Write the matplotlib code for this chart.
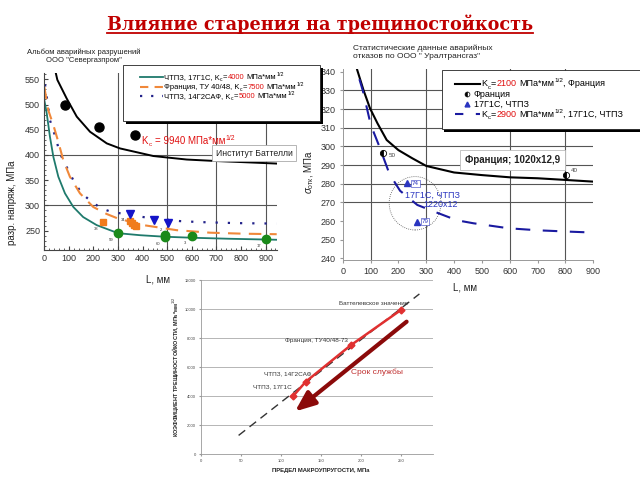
import matplotlib
matplotlib.use("Agg")
import matplotlib.pyplot as plt
from matplotlib.patches import Rectangle, Ellipse
from matplotlib.lines import Line2D
from matplotlib.ticker import MultipleLocator

plt.rcParams['font.family'] = ['Liberation Sans', 'DejaVu Sans']
plt.rcParams['mathtext.fontset'] = 'custom'
plt.rcParams['mathtext.rm'] = 'Liberation Sans'
plt.rcParams['mathtext.it'] = 'Liberation Sans:italic'
plt.rcParams['mathtext.bf'] = 'Liberation Sans:bold'

# ---- left chart: Альбом аварийных разрушений (Севергазпром) ----
L_17g1s = [0, 10, 23, 37, 57, 84, 118, 158, 213, 300, 390, 490, 600, 750, 945]
s_17g1s = [509, 482, 436, 396, 357, 324, 297, 277, 261, 245, 241, 238, 236, 234, 232]
L_france = [0, 16, 37, 57, 77, 104, 145, 199, 254, 300, 403, 538, 674, 809, 945]
s_france = [535, 489, 459, 426, 390, 357, 324, 297, 283, 274, 261, 251, 246, 244, 243]
L_14g2saf = [3, 23, 43, 64, 84, 118, 152, 193, 233, 274, 315, 402, 551, 633, 780, 945]
s_14g2saf = [540, 469, 439, 403, 383, 350, 324, 307, 294, 287, 284, 277, 269, 267, 265, 264]
L_battelle = [47, 53, 91, 132, 186, 254, 308, 389, 443, 500, 579, 700, 800, 945]
s_battelle = [562, 549, 512, 476, 446, 423, 413, 404, 398, 395, 391, 388, 386, 383]

bat_pts_L = [86, 221, 369]
bat_pts_s = [500, 456, 439]
green_pts_L = [300, 490, 492, 600, 900]
green_pts_s = [246, 242, 238, 239, 233]
orange_pts_L = [240, 350, 358, 365, 372]
orange_pts_s = [268, 270, 266, 262, 259]
blue_pts_L = [350, 448, 503]
blue_pts_s = [284, 271, 265]

# ---- right chart: Уралтрансгаз ----
L_fr2100 = [52, 75, 98, 125, 158, 200, 250, 300, 400, 500, 601, 700, 801, 900]
s_fr2100 = [341, 330, 320.4, 312.3, 303.4, 298, 293.6, 289.5, 286, 284.6, 283.4, 282.9, 282, 281.1]
L_ct2900 = [60, 72, 101, 132, 168, 206, 268, 338, 410, 469, 596, 704, 814, 900]
s_ct2900 = [336, 330, 311.4, 299.8, 285.2, 276.2, 268.6, 264.5, 260.4, 258.8, 256.1, 255, 254.3, 253.8]
fr_pts_L = [146, 801]
fr_pts_s = [296.6, 284.6]
fr_pts_lab = ["50", "40"]
ct_pts_L = [232, 266]
ct_pts_s = [280.2, 259.6]
ct_pts_lab = ["74", "79"]

# ---- bottom chart: Kc vs предел макроупругости ----
steel_names = ["ЧТПЗ, 17Г1С", "ЧТПЗ, 14Г2САФ", "Франция, ТУ40/48-73", "Баттелевское значение"]
macro_limit = [115, 131, 187, 250]
kc_values = [4000, 5000, 7500, 9940]
trend_x = [47, 273]
trend_y = [1300, 11040]

W, H = 640, 480
fig = plt.figure(figsize=(6.4, 4.8), dpi=100)
fig.patch.set_facecolor('white')
renderer = fig.canvas.get_renderer()


def fx(px):
    return px / W


def fy(py):
    return 1 - py / H


def add_ax(x0, y0, x1, y1):
    return fig.add_axes([fx(x0), fy(y1), (x1 - x0) / W, (y1 - y0) / H])


def colored_text(x, y, parts, size):
    # pieces of one line drawn next to each other, x/y in pixels (baseline)
    # a piece is (text, colour) or (text, colour, 'sub'/'sup')
    px_pt = 100 / 72
    for p in parts:
        s, c = p[0], p[1]
        kind = p[2] if len(p) > 2 else ''
        if s.startswith(' '):
            x += 0.28 * size * px_pt
            s = s.lstrip()
        fs, dy = size, 0
        if kind == 'sub':
            fs, dy = size * 0.65, 0.25 * size * px_pt
        elif kind == 'sup':
            fs, dy = size * 0.7, -0.45 * size * px_pt
        t = fig.text(fx(x), fy(y + dy), s, color=c, fontsize=fs, va='baseline', zorder=6)
        x += t.get_window_extent(renderer=renderer).width + 0.3


def kc_line(prefix, num, suffix):
    return [(prefix + "K", 'black'), ("c", 'black', 'sub'), ("=", 'black'), (num, red),
            (" МПа*мм", 'black'), ("1/2", 'black', 'sup')] + ([(suffix, 'black')] if suffix else [])


red = '#e01010'

# title
title = fig.text(0.5, fy(29.5), "Влияние старения на трещиностойкость",
                 fontfamily='DejaVu Serif', fontweight='bold', color='#c00000',
                 fontsize=14, ha='center', va='baseline')
tw = title.get_window_extent(renderer=renderer).width
title.set_fontsize(14 * 424 / tw)
bb = title.get_window_extent(renderer=renderer)
fig.add_artist(Line2D([bb.x0 / W, bb.x1 / W], [fy(33), fy(33)], color='#c00000', lw=1.3))

# ================= left chart =================
ax1 = add_ax(44.3, 73, 276.7, 250)
ax1.set_xlim(0, 945)
ax1.set_ylim(211.7, 562.5)
for side in ['top', 'right']:
    ax1.spines[side].set_visible(False)
for side in ['left', 'bottom']:
    ax1.spines[side].set_color('#444444')
    ax1.spines[side].set_linewidth(0.8)
ax1.set_xticks(range(0, 901, 100))
ax1.set_yticks(range(250, 551, 50))
ax1.xaxis.set_minor_locator(MultipleLocator(20))
ax1.yaxis.set_minor_locator(MultipleLocator(10))
ax1.tick_params(which='both', direction='in', color='#444444', labelsize=6.5, labelcolor='#333333')
ax1.tick_params(which='major', length=3, pad=3)
ax1.tick_params(which='minor', length=1.5)
for v in [300, 500, 700, 900]:
    ax1.axvline(v, color='#555555', lw=0.8, zorder=0)
for v in [300, 400]:
    ax1.axhline(v, color='#555555', lw=0.8, zorder=0)

ax1.plot(L_battelle, s_battelle, color='black', lw=1.4)
ax1.plot(L_14g2saf, s_14g2saf, color='#22228a', lw=1.6, dashes=(1, 4.5))
ax1.plot(L_france, s_france, color='#f0883a', lw=1.5, dashes=(6, 4))
ax1.plot(L_17g1s, s_17g1s, color='#1f7a6c', lw=1.3)
ax1.plot(bat_pts_L, bat_pts_s, 'o', color='black', ms=6.5)
ax1.plot(orange_pts_L, orange_pts_s, 's', color='#f07c1c', ms=5)
ax1.plot(blue_pts_L, blue_pts_s, 'v', color='#1414c8', ms=6)
ax1.plot(green_pts_L, green_pts_s, 'o', color='#1a8a1a', ms=6, zorder=4)
for L, s, lab in zip([300, 492, 600, 900, 240, 350, 503],
                     [246, 238, 239, 233, 268, 284, 265],
                     ["59", "60", "3", "17", "38", "34", "2"]):
    ax1.annotate(lab, (L, s), xytext=(-5, -5), textcoords='offset points',
                 fontsize=3, color='#333333', ha='center', va='center')

ax1.set_ylabel("разр. напряж, МПа", fontsize=7, color='#222222')
ax1.yaxis.set_label_coords(-0.117, 0.265)
ax1.set_xlabel("L, мм", fontsize=7, color='#222222')
ax1.xaxis.set_label_coords(0.49, -0.136)

fig.text(fx(84), fy(49), "Альбом аварийных разрушений\nООО \"Севергазпром\"", fontsize=5.5,
         ha='center', va='top', color='#222222', linespacing=1.15)
colored_text(141.7, 144, [("K", red), ("c", red, 'sub'), (" = 9940 МПа*мм", red), ("1/2", red, 'sup')], 7)
fig.text(fx(254), fy(153), "Институт Баттелли", fontsize=6.2, color='#222222', ha='center',
         va='center', zorder=5,
         bbox=dict(boxstyle='square,pad=0.45', fc='white', ec='#aaaaaa', lw=0.6))

# left legend
fig.add_artist(Rectangle((fx(126), fy(124)), (320 - 123) / W, (124 - 68) / H, fc='black', ec='none', zorder=5))
fig.add_artist(Rectangle((fx(123), fy(121)), (320 - 123) / W, (121 - 65) / H, fc='white', ec='#222222',
                         lw=0.6, zorder=5))
for y, c, d, lw in [(76.7, '#1f7a6c', None, 1.3), (86.7, '#f0883a', (4, 3), 1.5), (96, '#22228a', (1, 4), 1.6)]:
    ln = Line2D([fx(140), fx(163)], [fy(y), fy(y)], color=c, lw=lw, zorder=6)
    if d:
        ln.set_dashes(d)
    fig.add_artist(ln)
colored_text(164, 79, kc_line("ЧТПЗ, 17Г1С, ", "4000", ""), 5.5)
colored_text(164, 89, kc_line("Франция, ТУ 40/48, ", "7500", ""), 5.5)
colored_text(164, 98.5, kc_line("ЧТПЗ, 14Г2САФ, ", "5000", ""), 5.5)

# ================= right chart =================
ax2 = add_ax(342.7, 68.9, 593.3, 260.2)
ax2.set_xlim(0, 900)
ax2.set_ylim(239, 341.5)
for side in ['top', 'right']:
    ax2.spines[side].set_visible(False)
for side in ['left', 'bottom']:
    ax2.spines[side].set_color('#999999')
    ax2.spines[side].set_linewidth(0.7)
ax2.set_xticks(range(0, 901, 100))
ax2.set_yticks(range(240, 341, 10))
ax2.tick_params(direction='out', length=2, color='#999999', labelsize=6.5, labelcolor='#333333', pad=3)
for v in [100, 300, 600, 800]:
    ax2.axvline(v, color='#555555', lw=0.8, zorder=0)
for v in range(270, 331, 10):
    ax2.axhline(v, color='#555555', lw=0.8, zorder=0)

ax2.plot(L_fr2100, s_fr2100, color='black', lw=1.5)
ax2.plot(L_ct2900, s_ct2900, color='#1a1aa0', lw=1.5, dashes=(7, 6))
ax2.plot(fr_pts_L, fr_pts_s, 'o', ms=4.5, color='black', fillstyle='left',
         markerfacecoloralt='white', mew=0.6)
ax2.plot(ct_pts_L, ct_pts_s, '^', ms=4.5, color='#2a35c0')
for L, s, lab in zip(fr_pts_L, fr_pts_s, fr_pts_lab):
    ax2.annotate(lab, (L, s), xytext=(4, -2 if lab == "50" else 3), textcoords='offset points',
                 fontsize=4.5, color='#444444', va='center')
for L, s, lab in zip(ct_pts_L, ct_pts_s, ct_pts_lab):
    ax2.annotate(lab, (L, s), xytext=(6, 0), textcoords='offset points', fontsize=4.5,
                 color='#2a35c0', va='center', ha='center',
                 bbox=dict(boxstyle='square,pad=0.15', fc='white', ec='#2a35c0', lw=0.4))
ax2.add_patch(Ellipse((260, 269.5), 186, 28.6, fill=False, ec='#555555', lw=0.6, ls=(0, (1, 1.5))))
ax2.text(224, 274, "17Г1С, ЧТПЗ", fontsize=6.5, color='#2a35c0', va='center')
ax2.text(290, 269, "1220x12", fontsize=6.5, color='#2a35c0', va='center')
ax2.text(611, 292.7, "Франция; 1020x12,9", fontsize=7, fontweight='bold', color='#222222',
         ha='center', va='center', zorder=5,
         bbox=dict(boxstyle='square,pad=0.5', fc='white', ec='#bbbbbb', lw=0.6))

ax2.set_ylabel("$\\sigma_{\\mathrm{отк}}$, МПа", fontsize=7, color='#222222')
ax2.yaxis.set_label_coords(-0.107, 0.46)
ax2.set_xlabel("L, мм", fontsize=7, color='#222222')
ax2.xaxis.set_label_coords(0.488, -0.119)

fig.text(fx(353), fy(45), "Статистические данные аварийных\nотказов по ООО \" Уралтрансгаз\"",
         fontsize=6, ha='left', va='top', color='#222222', linespacing=1.15)

# right legend
fig.add_artist(Rectangle((fx(444), fy(131.5)), (650 - 444) / W, 4 / H, fc='black', ec='none', zorder=5))
fig.add_artist(Rectangle((fx(441.7), fy(129)), (650 - 441.7) / W, (129 - 70) / H, fc='white',
                         ec='#222222', lw=0.6, zorder=5))
fig.add_artist(Line2D([fx(455), fx(480)], [fy(84), fy(84)], color='black', lw=1.5, zorder=6))
ln = Line2D([fx(455), fx(480)], [fy(114.3), fy(114.3)], color='#1a1aa0', lw=1.5, zorder=6)
ln.set_dashes((4, 6))
fig.add_artist(ln)
fig.add_artist(Line2D([fx(466.7)], [fy(94.3)], marker='o', ms=3.5, color='black', fillstyle='left',
                      markerfacecoloralt='white', mew=0.5, zorder=6))
fig.add_artist(Line2D([fx(466.7)], [fy(104.3)], marker='^', ms=3.5, color='#2a35c0', zorder=6))
colored_text(481, 86.5, kc_line("", "2100", ", Франция"), 6.5)
colored_text(474, 96.7, [("Франция", 'black')], 6.5)
colored_text(474, 106.7, [("17Г1С, ЧТПЗ", 'black')], 6.5)
colored_text(481, 116.7, kc_line("", "2900", ", 17Г1С, ЧТПЗ"), 6.5)

# ================= bottom chart =================
ax3 = add_ax(201, 280, 433, 454.3)
ax3.set_xlim(0, 290)
ax3.set_ylim(0, 12000)
for side in ['top', 'right']:
    ax3.spines[side].set_visible(False)
for side in ['left', 'bottom']:
    ax3.spines[side].set_color('#999999')
    ax3.spines[side].set_linewidth(0.6)
ax3.set_xticks(range(0, 251, 50))
ax3.set_yticks(range(0, 12001, 2000))
ax3.tick_params(direction='out', length=1.5, color='#999999', labelsize=3, labelcolor='#444444', pad=2)
ax3.grid(axis='y', color='#aaaaaa', lw=0.6)
ax3.set_axisbelow(True)

ax3.plot(trend_x, trend_y, color='#333333', lw=1, dashes=(6, 4))
ax3.plot(macro_limit, kc_values, color='#e03030', lw=1.8, marker='D', ms=3.5)
label_offsets = [(-1.2, 6.5), (4.3, 5.5), (-1.9, 3.4), (5, 4.8)]
for name, xv, yv, off in zip(steel_names, macro_limit, kc_values, label_offsets):
    ax3.annotate(name, (xv, yv), xytext=off, textcoords='offset points', fontsize=4.6,
                 color='#333333', ha='right', va='center')
ax3.annotate('', xy=(117.5, 2950), xytext=(257, 9130),
             arrowprops=dict(arrowstyle='-|>,head_width=0.45,head_length=1.1', lw=3,
                             color='#8b0a0a', mutation_scale=11, shrinkA=0, shrinkB=0))
ax3.text(188, 5620, "Срок службы", fontsize=6, color='#c03030', va='center')
ax3.set_ylabel("КОЭФФИЦИЕНТ ТРЕЩИНОСТОЙКОСТИ, МПа*мм$^{1/2}$", fontsize=4, fontweight='bold',
               color='#222222')
ax3.yaxis.set_label_coords(-0.088, 0.5)
ax3.set_xlabel("ПРЕДЕЛ МАКРОУПРУГОСТИ, МПа", fontsize=4.2, fontweight='bold', color='#222222')
ax3.xaxis.set_label_coords(0.516, -0.08)

fig.savefig("out.png", dpi=100)
